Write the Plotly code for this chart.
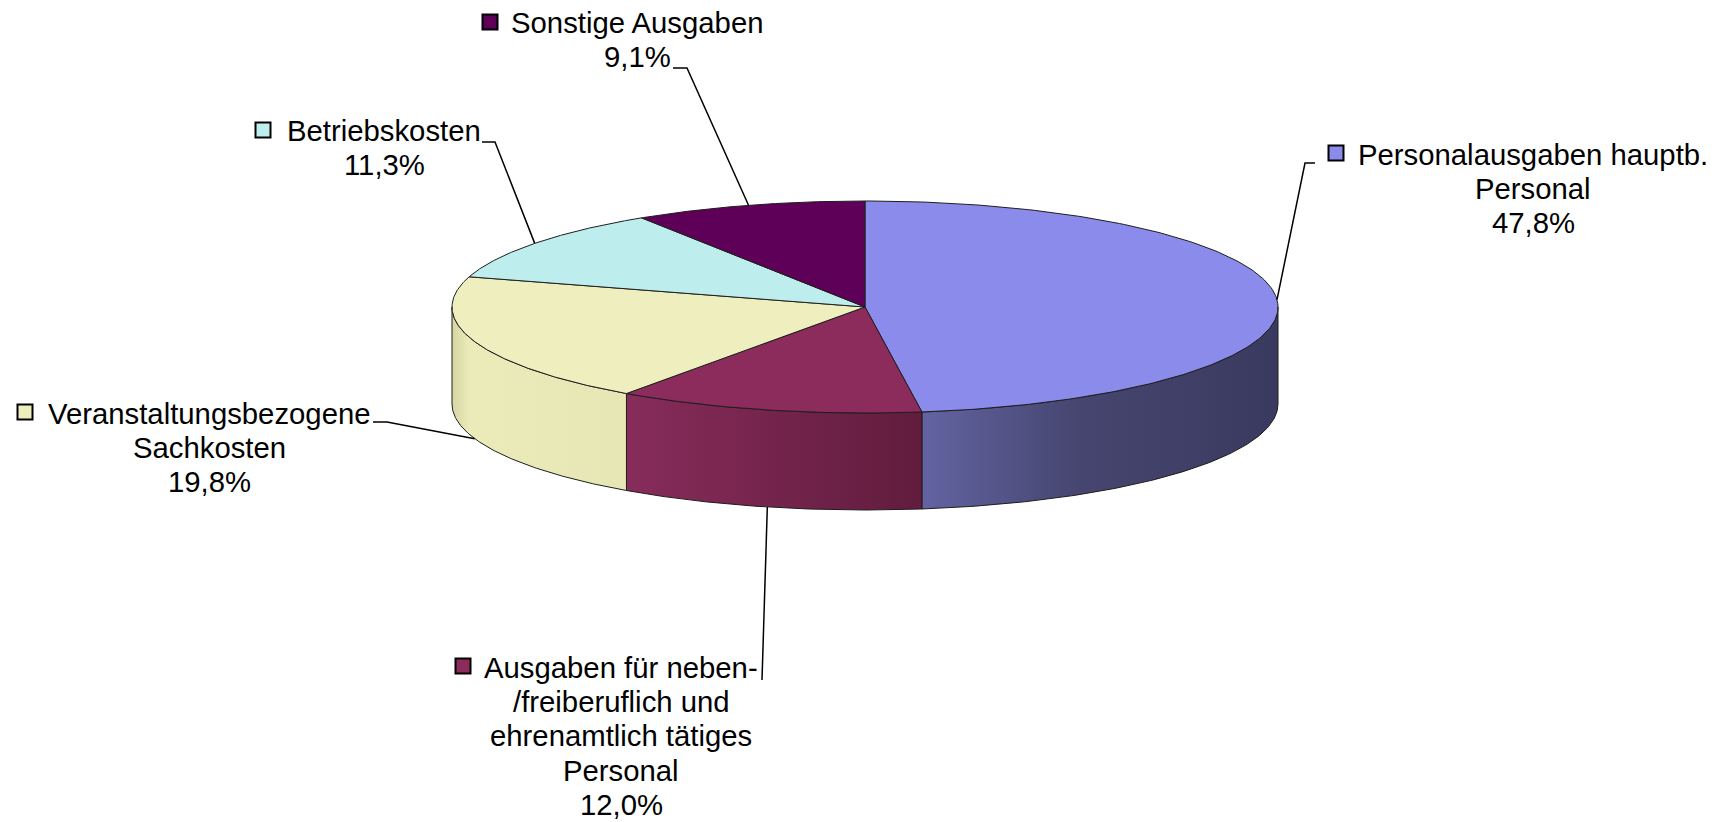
import numpy as np
import plotly.graph_objects as go

# ---------------- data ----------------
categories = [
    "Personalausgaben hauptb. Personal",
    "Ausgaben für neben-/freiberuflich und ehrenamtlich tätiges Personal",
    "Veranstaltungsbezogene Sachkosten",
    "Betriebskosten",
    "Sonstige Ausgaben",
]
shares = [47.8, 12.0, 19.8, 11.3, 9.1]
label_lines = [
    ["Personalausgaben hauptb.", "Personal"],
    ["Ausgaben für neben-", "/freiberuflich und", "ehrenamtlich tätiges", "Personal"],
    ["Veranstaltungsbezogene", "Sachkosten"],
    ["Betriebskosten"],
    ["Sonstige Ausgaben"],
]
top_colors = ["#8B8BEB", "#8B2C5C", "#EEEEBE", "#BDEDED", "#5E0058"]
side_scales = [
    [[0, "#6363A2"], [0.45, "#45456F"], [1, "#3A3A60"]],
    [[0, "#872C5B"], [1, "#611C3D"]],
    [[0, "#D6D6A4"], [0.1, "#EBEBBA"], [1, "#E7E7B5"]],
    [[0, "#A5CFCF"], [1, "#A5CFCF"]],
    [[0, "#4A0046"], [1, "#4A0046"]],
]

# ---------------- layout constants ----------------
W, H = 1721, 822
CX, CY = 865, 307
RX, RY = 413, 106
DEPTH = 97
FONT = "Liberation Sans, Arial, sans-serif"
FSIZE = 29.3
LINE_H = 34.4
EDGE = "#1e1e1e"

# per-label placement: text centre x, first-line y, key marker (x, y), leader elbow and end
label_pos = [
    dict(tx=1533, ty=154, mk=(1336, 153), elbow=(1305, 163), end=(1315, 163)),
    dict(tx=621, ty=667, mk=(463, 666), elbow=(762, 680), end=(762, 680)),
    dict(tx=209, ty=413, mk=(25, 412), elbow=(387, 422), end=(373, 422)),
    dict(tx=384, ty=130, mk=(263, 130), elbow=(495, 142), end=(482, 142)),
    dict(tx=637, ty=22, mk=(490, 22), elbow=(687, 68), end=(673, 68)),
]


def ell(theta_deg, dz=0.0):
    t = np.radians(theta_deg)
    return CX + RX * np.cos(t), CY - RY * np.sin(t) + dz


fig = go.Figure()

# slice angles (start at 12 o'clock, clockwise)
angles = []
start = 90.0
for s in shares:
    end = start - s / 100.0 * 360.0
    angles.append((start, end))
    start = end

# side faces (front half only)
for i, (a0, a1) in enumerate(angles):
    hi = min(a0, 0.0)
    lo = max(a1, -180.0)
    if lo >= hi:
        continue
    th = np.linspace(hi, lo, 120)
    xt, yt = ell(th)
    xb, yb = ell(th[::-1], DEPTH)
    xs = np.concatenate([xt, xb, xt[:1]])
    ys = np.concatenate([yt, yb, yt[:1]])
    fig.add_trace(go.Scatter(
        x=xs, y=ys, mode="lines", fill="toself",
        fillgradient=dict(type="horizontal", colorscale=side_scales[i],
                          start=float(xs.min()), stop=float(xs.max())),
        line=dict(color=EDGE, width=1), hoverinfo="skip", showlegend=False))

# top faces
for i, (a0, a1) in enumerate(angles):
    th = np.linspace(a0, a1, 200)
    xa, ya = ell(th)
    xs = np.concatenate([[CX], xa, [CX]])
    ys = np.concatenate([[CY], ya, [CY]])
    fig.add_trace(go.Scatter(
        x=xs, y=ys, mode="lines", fill="toself", fillcolor=top_colors[i],
        line=dict(color=EDGE, width=1), hoverinfo="skip", showlegend=False))

# leader lines
for i, (a0, a1) in enumerate(angles):
    mid = (a0 + a1) / 2.0
    dz = DEPTH if np.sin(np.radians(mid)) < 0 else 0.0
    ax, ay = ell(mid, dz)
    p = label_pos[i]
    fig.add_trace(go.Scatter(
        x=[ax, p["elbow"][0], p["end"][0]], y=[ay, p["elbow"][1], p["end"][1]],
        mode="lines", line=dict(color="black", width=1.5),
        hoverinfo="skip", showlegend=False))

# key markers
fig.add_trace(go.Scatter(
    x=[p["mk"][0] for p in label_pos], y=[p["mk"][1] for p in label_pos],
    mode="markers",
    marker=dict(symbol="square", size=15, color=top_colors,
                line=dict(color="black", width=2)),
    hoverinfo="skip", showlegend=False))

# label texts
annotations = []
for i, lines in enumerate(label_lines):
    p = label_pos[i]
    all_lines = lines + [f"{shares[i]:.1f}%".replace(".", ",")]
    for k, txt in enumerate(all_lines):
        annotations.append(dict(
            x=p["tx"], y=p["ty"] + k * LINE_H, xref="x", yref="y",
            text=txt, showarrow=False, xanchor="center", yanchor="middle",
            font=dict(family=FONT, size=FSIZE, color="black")))

fig.update_layout(
    width=W, height=H, margin=dict(l=0, r=0, t=0, b=0),
    paper_bgcolor="white", plot_bgcolor="white",
    xaxis=dict(range=[0, W], visible=False, fixedrange=True),
    yaxis=dict(range=[H, 0], visible=False, fixedrange=True),
    annotations=annotations, showlegend=False,
)

fig.write_html("out.html", config={"displayModeBar": False},
               post_script="document.body.style.margin='0';document.body.style.overflow='hidden';")
